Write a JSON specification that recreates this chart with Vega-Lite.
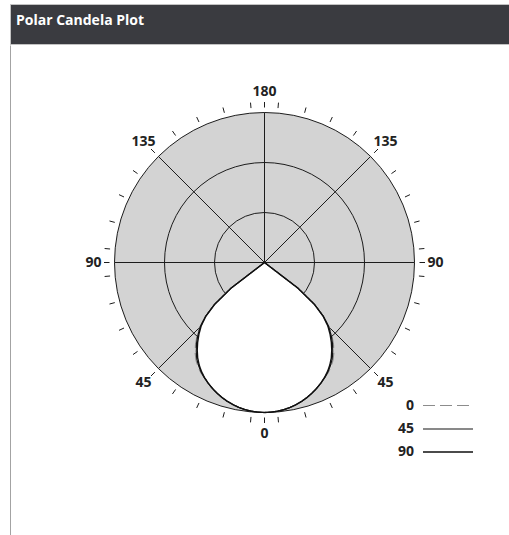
{
  "$schema": "https://vega.github.io/schema/vega-lite/v6.json",
  "padding": {"left": 9, "top": 3, "right": 0, "bottom": 0},
  "background": "white",
  "spacing": 0,
  "config": {"font": "Open Sans", "view": {"stroke": null}, "concat": {"spacing": 0}},
  "datasets": {
    "rings": [{"ring": 1500}, {"ring": 1000}, {"ring": 500}],
    "spokes": [{"a": 0}, {"a": 45}, {"a": 90}, {"a": 135}, {"a": 180}, {"a": -45}, {"a": -90}, {"a": -135}],
    "ticks": [{"a": 0}, {"a": 5}, {"a": 15}, {"a": 25}, {"a": 35}, {"a": 45}, {"a": 55}, {"a": 65}, {"a": 75}, {"a": 85}, {"a": 90}, {"a": 95}, {"a": 105}, {"a": 115}, {"a": 125}, {"a": 135}, {"a": 145}, {"a": 155}, {"a": 165}, {"a": 175}, {"a": 180},
      {"a": -5}, {"a": -15}, {"a": -25}, {"a": -35}, {"a": -45}, {"a": -55}, {"a": -65}, {"a": -75}, {"a": -85}, {"a": -90}, {"a": -95}, {"a": -105}, {"a": -115}, {"a": -125}, {"a": -135}, {"a": -145}, {"a": -155}, {"a": -165}, {"a": -175}],
    "labels": [{"a": 0, "t": "0"}, {"a": 45, "t": "45"}, {"a": -45, "t": "45"}, {"a": 90, "t": "90"}, {"a": -90, "t": "90"}, {"a": 135, "t": "135"}, {"a": -135, "t": "135"}, {"a": 180, "t": "180"}],
    "candela": [
      {"p": "0", "g": -55, "cd": 0}, {"p": "0", "g": -52.5, "cd": 425}, {"p": "0", "g": -50, "cd": 660}, {"p": "0", "g": -47.5, "cd": 812}, {"p": "0", "g": -45, "cd": 920}, {"p": "0", "g": -42.5, "cd": 1002}, {"p": "0", "g": -40, "cd": 1075}, {"p": "0", "g": -37.5, "cd": 1140}, {"p": "0", "g": -35, "cd": 1195}, {"p": "0", "g": -32.5, "cd": 1238}, {"p": "0", "g": -30, "cd": 1274}, {"p": "0", "g": -27.5, "cd": 1304}, {"p": "0", "g": -25, "cd": 1332}, {"p": "0", "g": -22.5, "cd": 1362}, {"p": "0", "g": -20, "cd": 1390}, {"p": "0", "g": -17.5, "cd": 1415}, {"p": "0", "g": -15, "cd": 1437}, {"p": "0", "g": -12.5, "cd": 1456}, {"p": "0", "g": -10, "cd": 1472}, {"p": "0", "g": -7.5, "cd": 1484}, {"p": "0", "g": -5, "cd": 1493}, {"p": "0", "g": -2.5, "cd": 1498},
      {"p": "0", "g": 0, "cd": 1500},
      {"p": "0", "g": 2.5, "cd": 1498}, {"p": "0", "g": 5, "cd": 1493}, {"p": "0", "g": 7.5, "cd": 1484}, {"p": "0", "g": 10, "cd": 1472}, {"p": "0", "g": 12.5, "cd": 1456}, {"p": "0", "g": 15, "cd": 1437}, {"p": "0", "g": 17.5, "cd": 1415}, {"p": "0", "g": 20, "cd": 1390}, {"p": "0", "g": 22.5, "cd": 1362}, {"p": "0", "g": 25, "cd": 1332}, {"p": "0", "g": 27.5, "cd": 1304}, {"p": "0", "g": 30, "cd": 1274}, {"p": "0", "g": 32.5, "cd": 1238}, {"p": "0", "g": 35, "cd": 1195}, {"p": "0", "g": 37.5, "cd": 1140}, {"p": "0", "g": 40, "cd": 1075}, {"p": "0", "g": 42.5, "cd": 1002}, {"p": "0", "g": 45, "cd": 920}, {"p": "0", "g": 47.5, "cd": 812}, {"p": "0", "g": 50, "cd": 660}, {"p": "0", "g": 52.5, "cd": 425}, {"p": "0", "g": 55, "cd": 0},

      {"p": "45", "g": -55, "cd": 0}, {"p": "45", "g": -52.5, "cd": 423}, {"p": "45", "g": -50, "cd": 655}, {"p": "45", "g": -47.5, "cd": 803}, {"p": "45", "g": -45, "cd": 908}, {"p": "45", "g": -42.5, "cd": 987}, {"p": "45", "g": -40, "cd": 1058}, {"p": "45", "g": -37.5, "cd": 1122}, {"p": "45", "g": -35, "cd": 1180}, {"p": "45", "g": -32.5, "cd": 1226}, {"p": "45", "g": -30, "cd": 1266}, {"p": "45", "g": -27.5, "cd": 1300}, {"p": "45", "g": -25, "cd": 1332}, {"p": "45", "g": -22.5, "cd": 1362}, {"p": "45", "g": -20, "cd": 1390}, {"p": "45", "g": -17.5, "cd": 1415}, {"p": "45", "g": -15, "cd": 1437}, {"p": "45", "g": -12.5, "cd": 1456}, {"p": "45", "g": -10, "cd": 1472}, {"p": "45", "g": -7.5, "cd": 1484}, {"p": "45", "g": -5, "cd": 1493}, {"p": "45", "g": -2.5, "cd": 1498},
      {"p": "45", "g": 0, "cd": 1500},
      {"p": "45", "g": 2.5, "cd": 1498}, {"p": "45", "g": 5, "cd": 1493}, {"p": "45", "g": 7.5, "cd": 1484}, {"p": "45", "g": 10, "cd": 1472}, {"p": "45", "g": 12.5, "cd": 1456}, {"p": "45", "g": 15, "cd": 1437}, {"p": "45", "g": 17.5, "cd": 1415}, {"p": "45", "g": 20, "cd": 1390}, {"p": "45", "g": 22.5, "cd": 1362}, {"p": "45", "g": 25, "cd": 1332}, {"p": "45", "g": 27.5, "cd": 1300}, {"p": "45", "g": 30, "cd": 1266}, {"p": "45", "g": 32.5, "cd": 1226}, {"p": "45", "g": 35, "cd": 1180}, {"p": "45", "g": 37.5, "cd": 1122}, {"p": "45", "g": 40, "cd": 1058}, {"p": "45", "g": 42.5, "cd": 987}, {"p": "45", "g": 45, "cd": 908}, {"p": "45", "g": 47.5, "cd": 803}, {"p": "45", "g": 50, "cd": 655}, {"p": "45", "g": 52.5, "cd": 423}, {"p": "45", "g": 55, "cd": 0},

      {"p": "90", "g": -55, "cd": 0}, {"p": "90", "g": -52.5, "cd": 420}, {"p": "90", "g": -50, "cd": 650}, {"p": "90", "g": -47.5, "cd": 795}, {"p": "90", "g": -45, "cd": 895}, {"p": "90", "g": -42.5, "cd": 970}, {"p": "90", "g": -40, "cd": 1040}, {"p": "90", "g": -37.5, "cd": 1105}, {"p": "90", "g": -35, "cd": 1165}, {"p": "90", "g": -32.5, "cd": 1216}, {"p": "90", "g": -30, "cd": 1260}, {"p": "90", "g": -27.5, "cd": 1298}, {"p": "90", "g": -25, "cd": 1332}, {"p": "90", "g": -22.5, "cd": 1362}, {"p": "90", "g": -20, "cd": 1390}, {"p": "90", "g": -17.5, "cd": 1415}, {"p": "90", "g": -15, "cd": 1437}, {"p": "90", "g": -12.5, "cd": 1456}, {"p": "90", "g": -10, "cd": 1472}, {"p": "90", "g": -7.5, "cd": 1484}, {"p": "90", "g": -5, "cd": 1493}, {"p": "90", "g": -2.5, "cd": 1498},
      {"p": "90", "g": 0, "cd": 1500},
      {"p": "90", "g": 2.5, "cd": 1498}, {"p": "90", "g": 5, "cd": 1493}, {"p": "90", "g": 7.5, "cd": 1484}, {"p": "90", "g": 10, "cd": 1472}, {"p": "90", "g": 12.5, "cd": 1456}, {"p": "90", "g": 15, "cd": 1437}, {"p": "90", "g": 17.5, "cd": 1415}, {"p": "90", "g": 20, "cd": 1390}, {"p": "90", "g": 22.5, "cd": 1362}, {"p": "90", "g": 25, "cd": 1332}, {"p": "90", "g": 27.5, "cd": 1298}, {"p": "90", "g": 30, "cd": 1260}, {"p": "90", "g": 32.5, "cd": 1216}, {"p": "90", "g": 35, "cd": 1165}, {"p": "90", "g": 37.5, "cd": 1105}, {"p": "90", "g": 40, "cd": 1040}, {"p": "90", "g": 42.5, "cd": 970}, {"p": "90", "g": 45, "cd": 895}, {"p": "90", "g": 47.5, "cd": 795}, {"p": "90", "g": 50, "cd": 650}, {"p": "90", "g": 52.5, "cd": 420}, {"p": "90", "g": 55, "cd": 0}
    ]
  },
  "vconcat": [
    {
      "width": 499,
      "height": 40,
      "view": {"fill": "#3a3b40", "stroke": "#c2c2c2", "strokeWidth": 1},
      "title": {"text": "Polar Candela Plot", "anchor": "start", "orient": "top", "offset": -35, "baseline": "alphabetic", "dx": 6, "color": "#ffffff", "fontSize": 14, "fontWeight": "bold", "font": "Open Sans"},
      "data": {"values": []},
      "mark": "point"
    },
    {
      "width": 499,
      "height": 490,
      "layer": [
        {
          "data": {"name": "rings"},
          "mark": {"type": "point", "shape": "circle", "fill": "#d3d3d3", "stroke": "#1c1c1c", "strokeWidth": 1, "opacity": 1, "fillOpacity": 1, "strokeOpacity": 1},
          "encoding": {
            "x": {"datum": 0, "type": "quantitative", "scale": {"domain": [-2545, 2445], "nice": false, "zero": false}, "axis": null},
            "y": {"datum": 0, "type": "quantitative", "scale": {"domain": [-2725, 2175], "nice": false, "zero": false}, "axis": {"domain": true, "domainColor": "#a3a3a3", "domainWidth": 1, "ticks": false, "labels": false, "grid": false, "title": null}},
            "size": {"field": "ring", "type": "quantitative", "scale": {"type": "pow", "exponent": 2, "domain": [0, 1500], "range": [0, 90000]}, "legend": null}
          }
        },
        {
          "data": {"name": "spokes"},
          "transform": [
            {"calculate": "1500 * sin(datum.a * PI / 180)", "as": "xe"},
            {"calculate": "-1500 * cos(datum.a * PI / 180)", "as": "ye"},
            {"calculate": "0", "as": "o"}
          ],
          "mark": {"type": "rule", "stroke": "#1c1c1c", "strokeWidth": 1},
          "encoding": {
            "x": {"field": "o", "type": "quantitative", "axis": null},
            "y": {"field": "o", "type": "quantitative", "axis": {"domain": true, "domainColor": "#a3a3a3", "domainWidth": 1, "ticks": false, "labels": false, "grid": false, "title": null}},
            "x2": {"field": "xe"},
            "y2": {"field": "ye"}
          }
        },
        {
          "data": {"name": "candela"},
          "transform": [
            {"filter": "datum.p == '0'"},
            {"calculate": "datum.cd * sin(datum.g * PI / 180)", "as": "x"},
            {"calculate": "-datum.cd * cos(datum.g * PI / 180)", "as": "y"}
          ],
          "mark": {"type": "line", "fill": "#ffffff", "stroke": "#ffffff", "strokeWidth": 0},
          "encoding": {
            "x": {"field": "x", "type": "quantitative", "axis": null},
            "y": {"field": "y", "type": "quantitative", "axis": {"domain": true, "domainColor": "#a3a3a3", "domainWidth": 1, "ticks": false, "labels": false, "grid": false, "title": null}},
            "order": {"field": "g", "type": "quantitative"}
          }
        },
        {
          "data": {"name": "candela"},
          "transform": [
            {"calculate": "datum.cd * sin(datum.g * PI / 180)", "as": "x"},
            {"calculate": "-datum.cd * cos(datum.g * PI / 180)", "as": "y"}
          ],
          "mark": {"type": "line"},
          "encoding": {
            "x": {"field": "x", "type": "quantitative", "axis": null},
            "y": {"field": "y", "type": "quantitative", "axis": {"domain": true, "domainColor": "#a3a3a3", "domainWidth": 1, "ticks": false, "labels": false, "grid": false, "title": null}},
            "order": {"field": "g", "type": "quantitative"},
            "color": {"field": "p", "type": "nominal", "scale": {"domain": ["0", "45", "90"], "range": ["#8c8c8c", "#151515", "#101010"]},
              "legend": {"title": null, "orient": "none", "legendX": 405, "legendY": 394, "padding": 0, "symbolType": "M-3.5714,0H3.5714", "symbolSize": 196, "symbolOffset": 25, "labelAlign": "right", "labelOffset": -42, "labelFontSize": 14, "labelFontWeight": "bold", "labelColor": "#222222", "labelFont": "Open Sans", "rowPadding": 8}},
            "strokeDash": {"field": "p", "type": "nominal", "scale": {"domain": ["0", "45", "90"], "range": [[12, 5], [1, 0], [1, 0]]},
              "legend": {"title": null, "orient": "none", "legendX": 405, "legendY": 394, "padding": 0, "symbolType": "M-3.5714,0H3.5714", "symbolSize": 196, "symbolOffset": 25, "labelAlign": "right", "labelOffset": -42, "labelFontSize": 14, "labelFontWeight": "bold", "labelColor": "#222222", "labelFont": "Open Sans", "rowPadding": 8}},
            "strokeWidth": {"field": "p", "type": "ordinal", "scale": {"domain": ["0", "45", "90"], "range": [1, 1.4, 2.2]},
              "legend": {"title": null, "orient": "none", "legendX": 405, "legendY": 394, "padding": 0, "symbolType": "M-3.5714,0H3.5714", "symbolSize": 196, "symbolOffset": 25, "labelAlign": "right", "labelOffset": -42, "labelFontSize": 14, "labelFontWeight": "bold", "labelColor": "#222222", "labelFont": "Open Sans", "rowPadding": 8}}
          }
        },
        {
          "data": {"name": "ticks"},
          "transform": [
            {"calculate": "1550 * sin(datum.a * PI / 180)", "as": "xa"},
            {"calculate": "-1550 * cos(datum.a * PI / 180)", "as": "ya"},
            {"calculate": "1605 * sin(datum.a * PI / 180)", "as": "xb"},
            {"calculate": "-1605 * cos(datum.a * PI / 180)", "as": "yb"}
          ],
          "mark": {"type": "rule", "stroke": "#1c1c1c", "strokeWidth": 1},
          "encoding": {
            "x": {"field": "xa", "type": "quantitative", "axis": null},
            "y": {"field": "ya", "type": "quantitative", "axis": {"domain": true, "domainColor": "#a3a3a3", "domainWidth": 1, "ticks": false, "labels": false, "grid": false, "title": null}},
            "x2": {"field": "xb"},
            "y2": {"field": "yb"}
          }
        },
        {
          "data": {"name": "labels"},
          "transform": [
            {"calculate": "1710 * sin(datum.a * PI / 180)", "as": "x"},
            {"calculate": "-1710 * cos(datum.a * PI / 180)", "as": "y"}
          ],
          "mark": {"type": "text", "align": "center", "baseline": "middle", "fontSize": 14, "fontWeight": "bold", "font": "Open Sans", "fill": "#222222"},
          "encoding": {
            "x": {"field": "x", "type": "quantitative", "axis": null},
            "y": {"field": "y", "type": "quantitative", "axis": {"domain": true, "domainColor": "#a3a3a3", "domainWidth": 1, "ticks": false, "labels": false, "grid": false, "title": null}},
            "text": {"field": "t"}
          }
        }
      ]
    }
  ]
}
